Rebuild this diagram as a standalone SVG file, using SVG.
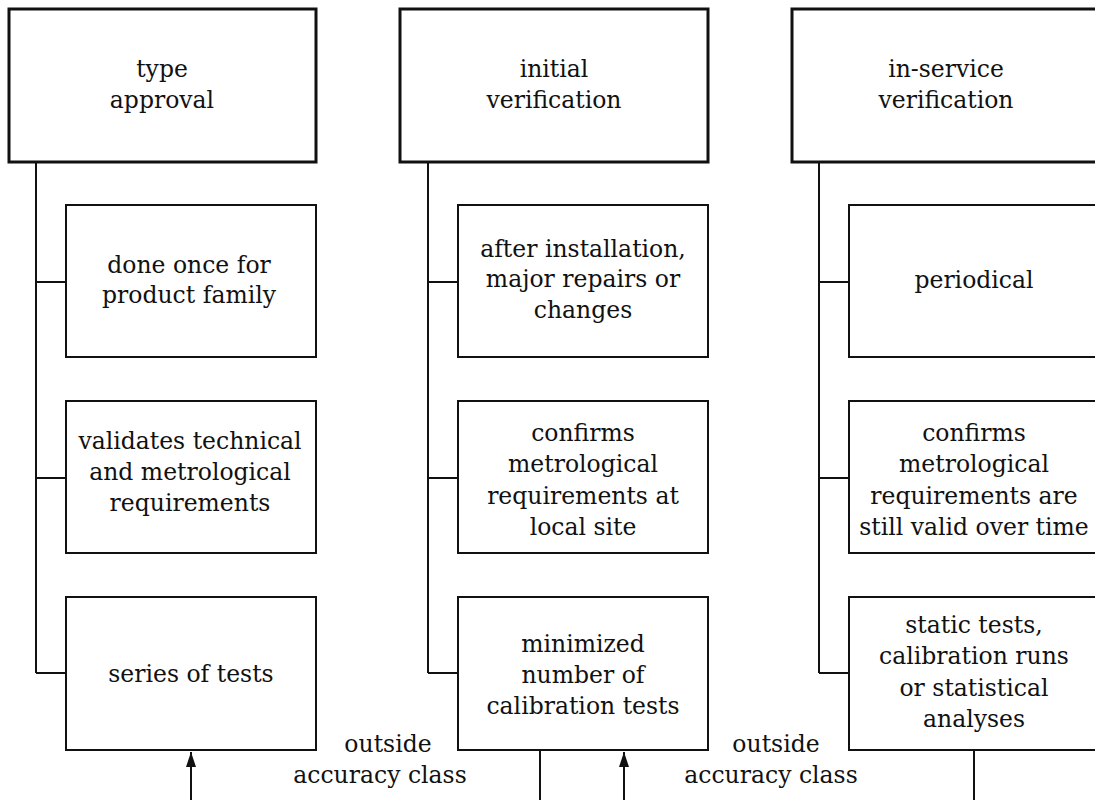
<svg xmlns="http://www.w3.org/2000/svg" width="1095" height="800" viewBox="0 0 1095 800">
<defs>
<style>
.top{fill:#fff;stroke:#111;stroke-width:3}
.sub{fill:#fff;stroke:#111;stroke-width:2}
.ln{fill:none;stroke:#111;stroke-width:2}
text{font-family:"DejaVu Serif","Liberation Serif",serif;font-size:23.5px;fill:#111;text-anchor:middle}
</style>
<marker id="ah" viewBox="0 0 15 10" refX="15" refY="5" markerWidth="15" markerHeight="10" markerUnits="userSpaceOnUse" orient="auto" preserveAspectRatio="none">
<path d="M0,0 L15,5 L0,10 Z" fill="#111"/>
</marker>
</defs>
<rect width="1095" height="800" fill="#fff"/>
<g id="connectors">
<path class="ln" d="M36,162 V673 M36,282 H66 M36,478 H66 M36,673 H66"/>
<path class="ln" d="M428,162 V673 M428,282 H458 M428,478 H458 M428,673 H458"/>
<path class="ln" d="M819,162 V673 M819,282 H849 M819,478 H849 M819,673 H849"/>
<path class="ln" d="M191,800 V752" marker-end="url(#ah)"/>
<path class="ln" d="M540,751 V800"/>
<path class="ln" d="M624,800 V752" marker-end="url(#ah)"/>
<path class="ln" d="M974,751 V800"/>
</g>
<g id="type-approval"><rect class="top" x="9" y="9" width="307" height="153"/><text x="162" y="77">type</text><text x="162" y="108">approval</text></g>
<g id="initial-verification"><rect class="top" x="400" y="9" width="308" height="153"/><text x="554" y="77">initial</text><text x="554" y="108">verification</text></g>
<g id="in-service-verification"><rect class="top" x="792" y="9" width="308" height="153"/><text x="946" y="77">in-service</text><text x="946" y="108">verification</text></g>
<g id="done-once"><rect class="sub" x="66" y="205" width="250" height="152"/><text x="189" y="273">done once for</text><text x="189" y="303">product family</text></g>
<g id="validates"><rect class="sub" x="66" y="401" width="250" height="152"/><text x="190" y="449">validates technical</text><text x="190" y="480">and metrological</text><text x="190" y="511">requirements</text></g>
<g id="series"><rect class="sub" x="66" y="597" width="250" height="153"/><text x="191" y="682">series of tests</text></g>
<g id="after-installation"><rect class="sub" x="458" y="205" width="250" height="152"/><text x="583" y="257">after installation,</text><text x="583" y="287">major repairs or</text><text x="583" y="318">changes</text></g>
<g id="confirms-local"><rect class="sub" x="458" y="401" width="250" height="152"/><text x="583" y="441">confirms</text><text x="583" y="472">metrological</text><text x="583" y="504">requirements at</text><text x="583" y="535">local site</text></g>
<g id="minimized"><rect class="sub" x="458" y="597" width="250" height="153"/><text x="583" y="652">minimized</text><text x="583" y="683">number of</text><text x="583" y="714">calibration tests</text></g>
<g id="periodical"><rect class="sub" x="849" y="205" width="251" height="152"/><text x="974" y="288">periodical</text></g>
<g id="confirms-time"><rect class="sub" x="849" y="401" width="251" height="152"/><text x="974" y="441">confirms</text><text x="974" y="472">metrological</text><text x="974" y="504">requirements are</text><text x="974" y="535">still valid over time</text></g>
<g id="static-tests"><rect class="sub" x="849" y="597" width="251" height="153"/><text x="974" y="633">static tests,</text><text x="974" y="664">calibration runs</text><text x="974" y="696">or statistical</text><text x="974" y="727">analyses</text></g>
<g id="label-1"><text x="388" y="752">outside</text><text x="380" y="783">accuracy class</text></g>
<g id="label-2"><text x="776" y="752">outside</text><text x="771" y="783">accuracy class</text></g>
</svg>
